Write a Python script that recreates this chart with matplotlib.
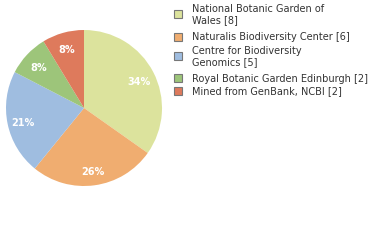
import matplotlib
matplotlib.use("Agg")
import matplotlib.pyplot as plt
from matplotlib.patches import Rectangle
import numpy as np

labels = ["National Botanic Garden of\nWales [8]", "Naturalis Biodiversity Center [6]",
          "Centre for Biodiversity\nGenomics [5]", "Royal Botanic Garden Edinburgh [2]",
          "Mined from GenBank, NCBI [2]"]
values = [8, 6, 5, 2, 2]
pct_labels = ["34%", "26%", "21%", "8%", "8%"]
colors = ["#dce39d", "#f0ad70", "#9fbde0", "#9dc57a", "#de7a5c"]

fig = plt.figure(figsize=(3.8, 2.4), dpi=100)
ax = fig.add_axes([6/380, (240-108-78)/240, 156/380, 156/240])
wedges, _ = ax.pie(values, colors=colors, startangle=90, counterclock=False,
                   wedgeprops=dict(linewidth=0))
total = sum(values)
cum = 0
for v, p in zip(values, pct_labels):
    mid = 90 - (cum + v/2)/total*360
    cum += v
    r = 0.8
    ax.text(r*np.cos(np.radians(mid)), r*np.sin(np.radians(mid)) - 0.03, p,
            ha="center", va="center", color="white", fontsize=7, fontweight="bold")
ax.set_xlim(-1, 1)
ax.set_ylim(-1, 1)
ax.set_aspect("equal")
ax.axis("off")

# legend
y_sq = [14, 37, 56, 78, 91]
for lab, c, y in zip(labels, colors, y_sq):
    fig.patches.append(Rectangle((174/380, 1-(y+4)/240), 8/380, 8/240,
                                 transform=fig.transFigure, facecolor=c,
                                 edgecolor="#777777", linewidth=0.8))
    fig.text(192/380, 1-(y+0.5)/240, lab, ha="left", va="center", fontsize=7,
             color="#333333", linespacing=1.25)

fig.savefig("out.png", dpi=100)
